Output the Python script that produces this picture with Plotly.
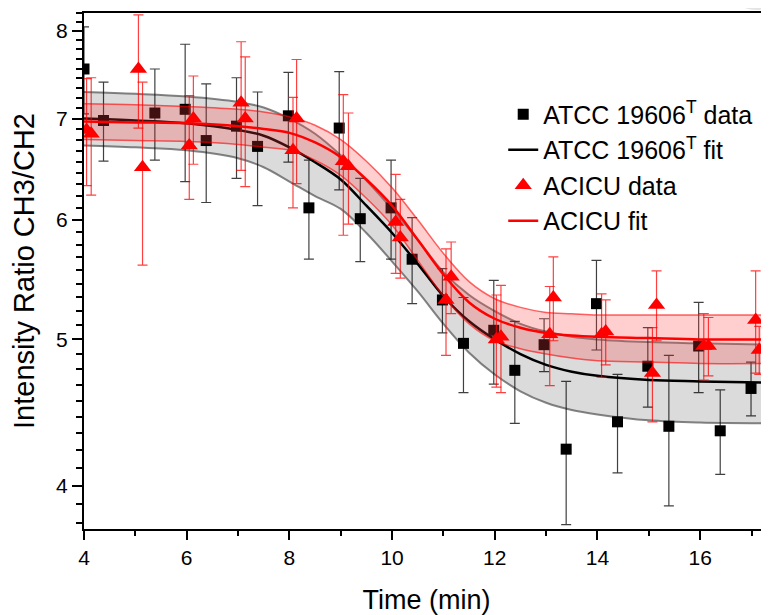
import plotly.graph_objects as go

# ---- data ----
x_atcc = [4.0, 4.38, 5.38, 5.97, 6.38, 6.97, 7.38, 7.98, 8.38, 8.97, 9.38, 9.98, 10.39, 10.98,
          11.39, 11.98, 12.39, 12.96, 13.39, 13.98, 14.39, 14.98, 15.39, 15.97, 16.39, 16.99, 17.4]
y_atcc = [7.55, 6.98, 7.06, 7.10, 6.77, 6.92, 6.71, 7.03, 6.11, 6.90, 6.01, 6.11, 5.65, 5.31,
          4.97, 5.07, 4.77, 4.96, 4.23, 5.28, 4.41, 4.80, 4.38, 4.95, 4.35, 4.64, 4.89]
err_atcc = [0.50, 0.42, 0.49, 0.74, 0.61, 0.53, 0.58, 0.48, 0.46, 0.62, 0.38, 0.46, 0.37, 0.26,
            0.36, 0.40, 0.37, 0.20, 0.46, 0.36, 0.33, 0.29, 0.50, 0.34, 0.28, 0.19, 0.34]

x_acicu = [4.05, 4.14, 5.06, 5.14, 6.05, 6.13, 7.06, 7.14, 8.07, 8.14, 9.05, 9.15, 10.07, 10.16,
           11.05, 11.15, 12.03, 12.12, 13.07, 13.14, 14.08, 14.16, 15.07, 15.15, 16.07, 16.16, 17.08, 17.15]
y_acicu = [6.88, 6.84, 7.55, 6.50, 6.72, 7.00, 7.17, 7.00, 6.67, 7.00, 6.56, 6.51, 5.98, 5.84,
           5.31, 5.50, 5.00, 5.02, 5.04, 5.33, 5.04, 5.06, 4.75, 5.27, 4.95, 4.95, 5.15, 4.92]
err_acicu = [0.56, 0.61, 0.65, 0.90, 0.53, 0.47, 0.70, 0.69, 0.56, 0.66, 0.70, 0.55, 0.45, 0.35,
             0.43, 0.30, 0.35, 0.41, 0.38, 0.34, 0.32, 0.25, 0.34, 0.28, 0.25, 0.22, 0.40, 0.18]

# fitted curves and confidence bands
x_fit = [4, 5, 6, 7, 7.5, 8, 8.5, 9, 9.5, 10, 10.5, 11, 11.5, 12, 12.5, 13, 13.5, 14, 15, 16, 17.4]
atcc_fit = [7.00, 6.98, 6.95, 6.88, 6.82, 6.70, 6.55, 6.38, 6.13, 5.88, 5.61, 5.34, 5.14, 5.00,
            4.89, 4.81, 4.76, 4.73, 4.70, 4.69, 4.68]
atcc_up = [7.29, 7.27, 7.24, 7.18, 7.12, 7.00, 6.84, 6.62, 6.37, 6.10, 5.82, 5.54, 5.35, 5.22,
           5.12, 5.06, 5.02, 5.00, 4.98, 4.97, 4.96]
atcc_lo = [6.72, 6.70, 6.67, 6.59, 6.50, 6.36, 6.22, 6.10, 5.88, 5.63, 5.38, 5.12, 4.90, 4.74,
           4.62, 4.54, 4.49, 4.46, 4.42, 4.405, 4.40]
acicu_fit = [6.97, 6.96, 6.95, 6.92, 6.89, 6.85, 6.75, 6.60, 6.38, 6.13, 5.82, 5.52, 5.29, 5.16,
             5.09, 5.05, 5.03, 5.02, 5.01, 5.00, 5.00]
acicu_up = [7.16, 7.15, 7.13, 7.10, 7.07, 7.02, 6.93, 6.78, 6.56, 6.30, 6.00, 5.70, 5.46, 5.32,
            5.25, 5.21, 5.20, 5.19, 5.19, 5.19, 5.19]
acicu_lo = [6.78, 6.77, 6.76, 6.73, 6.70, 6.67, 6.57, 6.42, 6.20, 5.95, 5.64, 5.34, 5.12, 4.99,
            4.93, 4.89, 4.86, 4.84, 4.83, 4.82, 4.82]

y_ticks = [4, 5, 6, 7, 8]

FONT = "Liberation Sans, Arial, sans-serif"

fig = go.Figure()

# ATCC band
fig.add_trace(go.Scatter(x=x_fit, y=atcc_lo, mode="lines", line=dict(color="rgba(80,80,80,0.7)", width=2, shape="spline"),
                         showlegend=False, hoverinfo="skip"))
fig.add_trace(go.Scatter(x=x_fit, y=atcc_up, mode="lines", line=dict(color="rgba(80,80,80,0.7)", width=2, shape="spline"),
                         fill="tonexty", fillcolor="rgba(165,165,165,0.4)", showlegend=False, hoverinfo="skip"))

# ATCC data
fig.add_trace(go.Scatter(x=x_atcc, y=y_atcc, mode="markers", name="ATCC 19606<sup>T</sup> data",
                         marker=dict(symbol="square", size=11, color="black"),
                         error_y=dict(type="data", array=err_atcc, color="rgba(0,0,0,0.75)", thickness=1.2, width=5)))
# ATCC fit
fig.add_trace(go.Scatter(x=x_fit, y=atcc_fit, mode="lines", name="ATCC 19606<sup>T</sup> fit",
                         line=dict(color="black", width=2.5, shape="spline")))

# ACICU band
fig.add_trace(go.Scatter(x=x_fit, y=acicu_lo, mode="lines", line=dict(color="rgba(255,0,0,0.6)", width=1.5, shape="spline"),
                         showlegend=False, hoverinfo="skip"))
fig.add_trace(go.Scatter(x=x_fit, y=acicu_up, mode="lines", line=dict(color="rgba(255,0,0,0.6)", width=1.5, shape="spline"),
                         fill="tonexty", fillcolor="rgba(255,60,60,0.25)", showlegend=False, hoverinfo="skip"))

# ACICU data
fig.add_trace(go.Scatter(x=x_acicu, y=y_acicu, mode="markers", name="ACICU data",
                         marker=dict(symbol="triangle-up", size=15, color="#ff0000"),
                         error_y=dict(type="data", array=err_acicu, color="rgba(255,0,0,0.75)", thickness=1.2, width=5)))
# ACICU fit
fig.add_trace(go.Scatter(x=x_fit, y=acicu_fit, mode="lines", name="ACICU fit",
                         line=dict(color="#ff0000", width=2.5, shape="spline")))

# minor ticks on y (Origin style: 8 minor ticks between majors)
minor_y = []
for k in [3, 4, 5, 6, 7, 8]:
    for j in range(1, 9):
        minor_y.append(k + j / 9)

# page body has an 8px margin, so the figure is sized/placed to compensate
fig.update_layout(
    width=761, height=607,
    margin=dict(l=76, r=0, t=5, b=86),
    plot_bgcolor="white", paper_bgcolor="white",
    font=dict(family=FONT, color="black", size=20),
    legend=dict(x=0.612, y=0.848, xanchor="left", yanchor="top", bgcolor="rgba(0,0,0,0)",
                font=dict(size=25, family=FONT), tracegroupgap=0, traceorder="normal"),
    xaxis=dict(range=[4, 17.34], dtick=2, tick0=4, ticks="outside", ticklen=9, tickwidth=2,
               tickcolor="black", showline=True, linecolor="black", linewidth=2, mirror=True,
               showgrid=False, zeroline=False, tickfont=dict(size=21), automargin=False,
               minor=dict(dtick=1, tick0=4, ticks="outside", ticklen=5, tickwidth=1.5, tickcolor="black"),
               title=dict(text="Time (min)", font=dict(size=27), standoff=23)),
    yaxis=dict(type="log", range=[0.5735, 0.9150], tickmode="array", tickvals=y_ticks,
               ticktext=[str(v) for v in y_ticks], ticks="outside", ticklen=10, tickwidth=2,
               tickcolor="black", showline=True, linecolor="black", linewidth=2, mirror=False,
               showgrid=False, zeroline=False, tickfont=dict(size=21), automargin=False,
               minor=dict(tickmode="array", tickvals=minor_y, ticks="outside", ticklen=6,
                          tickwidth=1.5, tickcolor="black"),
               title=dict(text="Intensity Ratio CH3/CH2", font=dict(size=29), standoff=14)),
    shapes=[dict(type="circle", xref="paper", yref="paper", x0=0.9226, x1=1.0424, y0=1.0058, y1=1.1647,
                 fillcolor="#e4e4e4", line=dict(width=0), layer="below")],
)

fig.write_html("out.html")
